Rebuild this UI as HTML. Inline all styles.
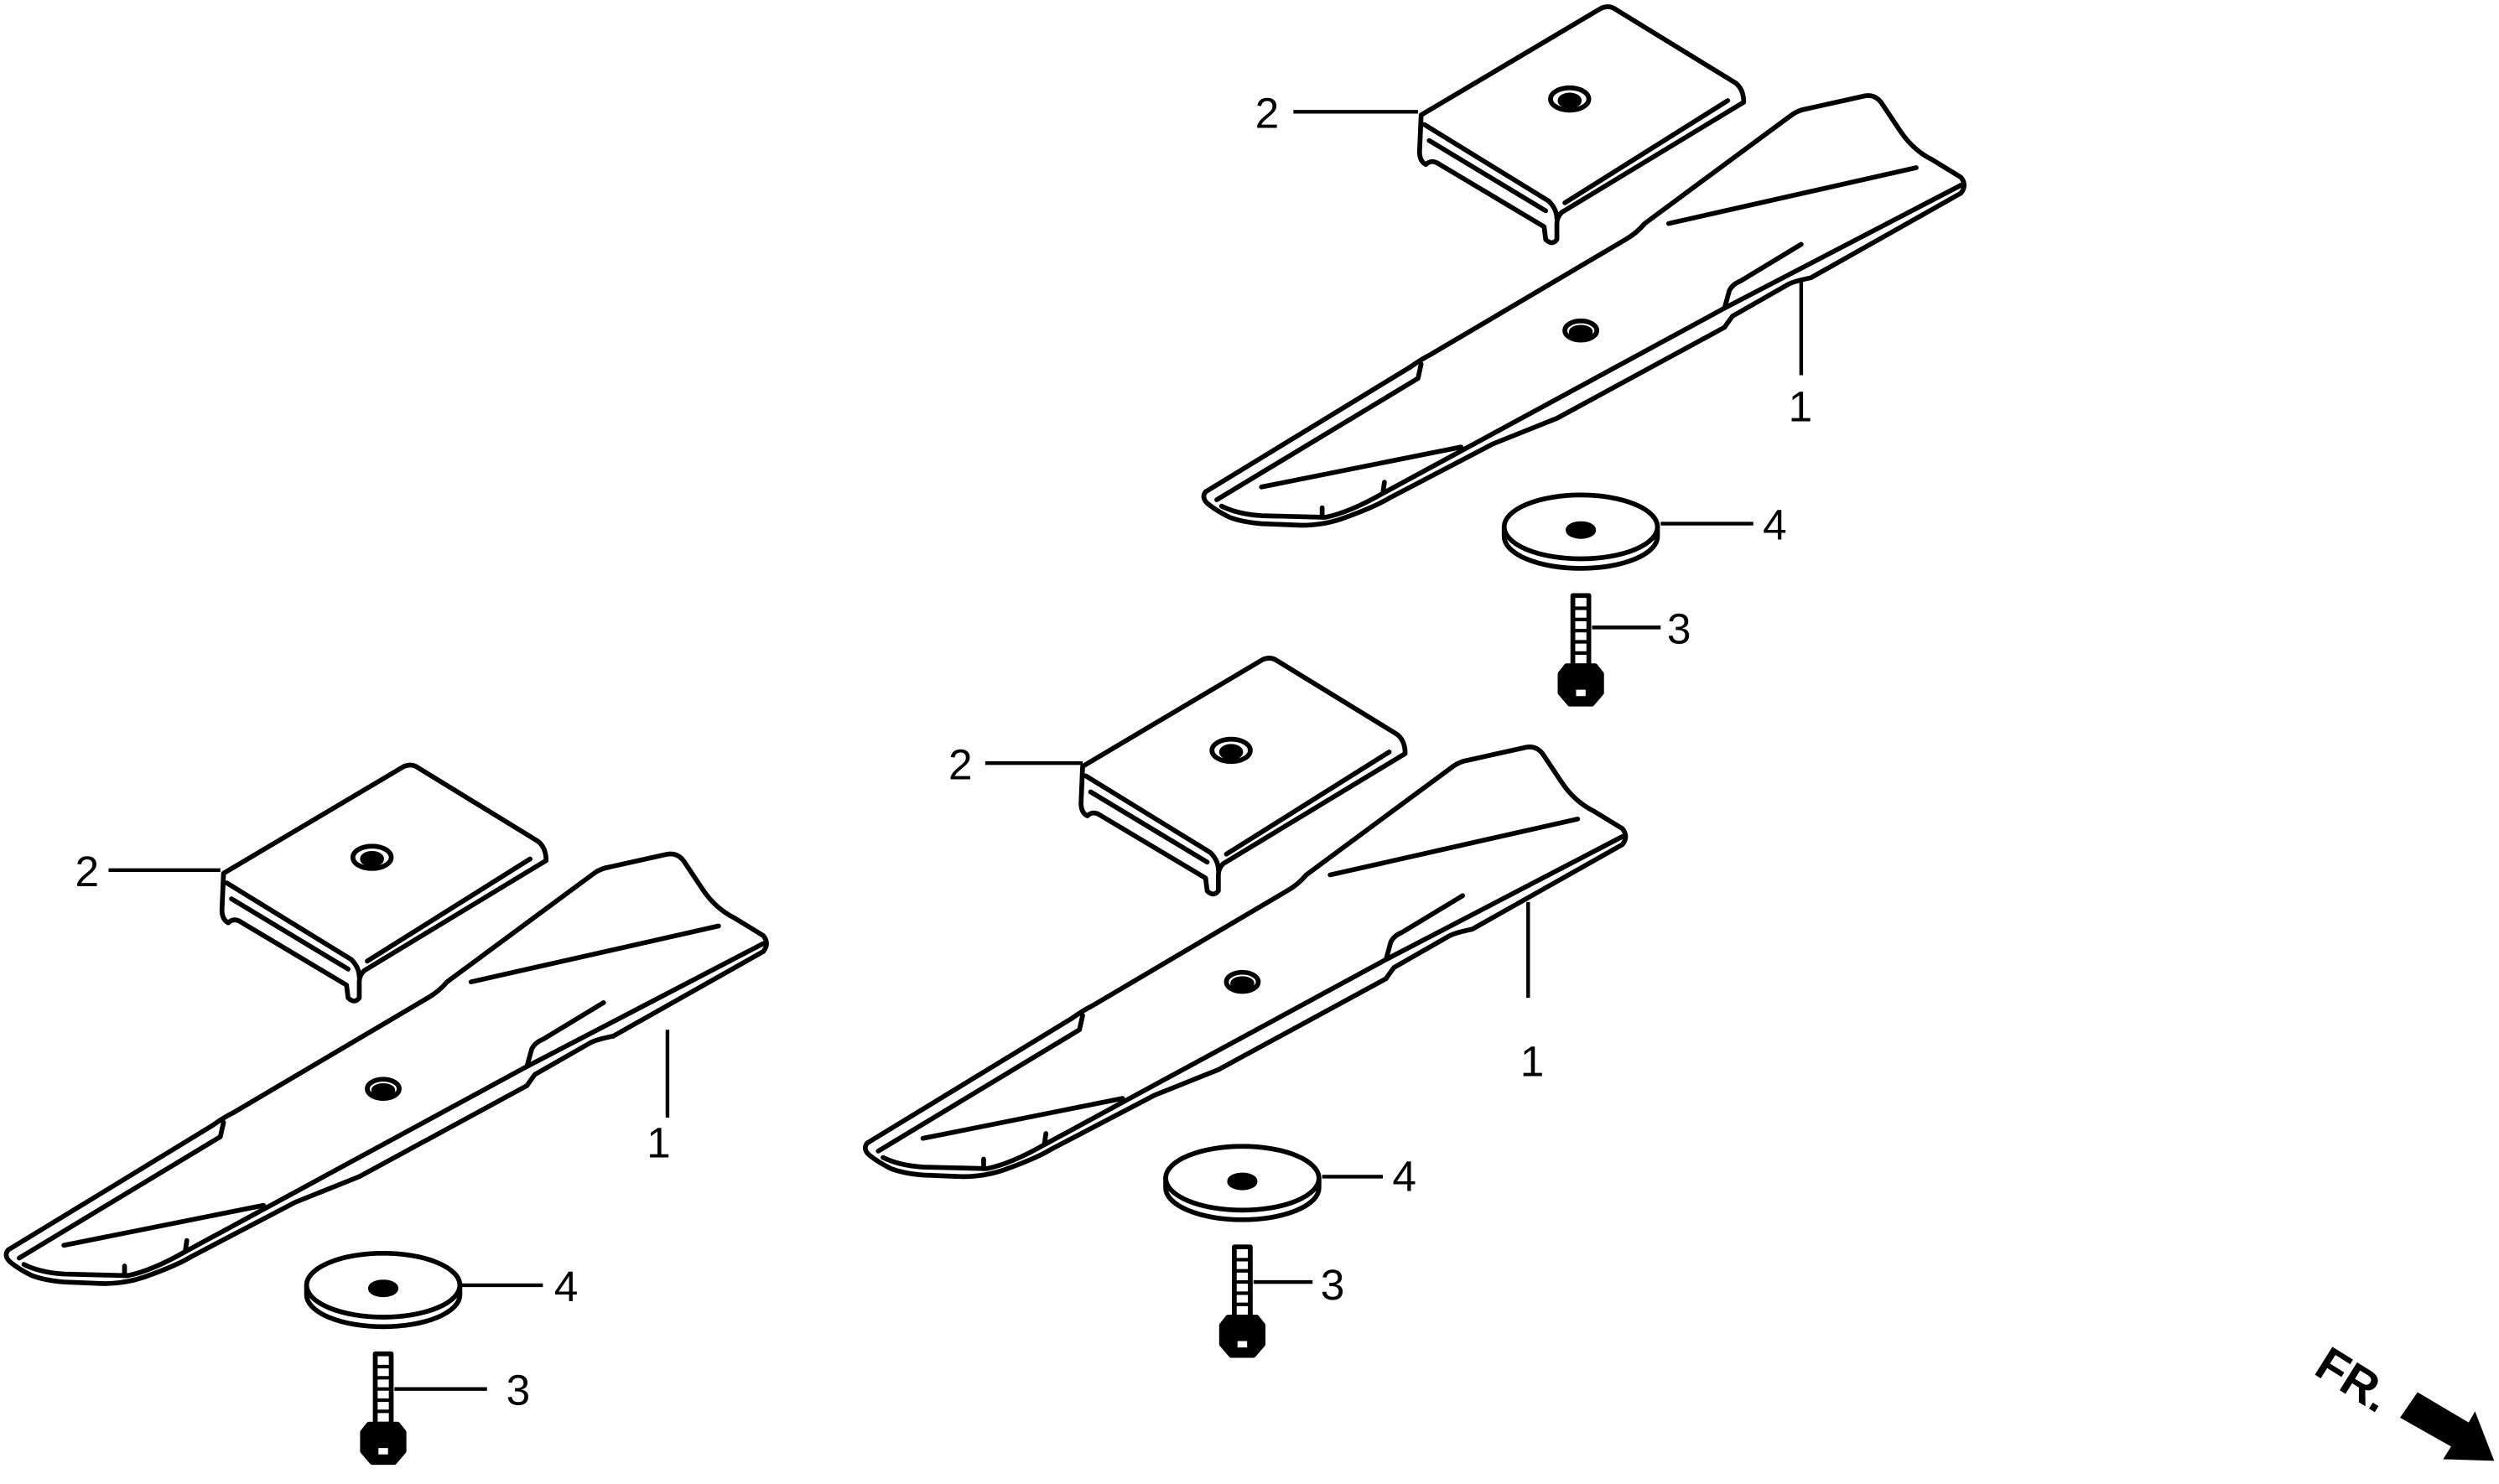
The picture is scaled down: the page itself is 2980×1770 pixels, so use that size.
<!DOCTYPE html>
<html><head><meta charset="utf-8"><style>
html,body{margin:0;padding:0;background:#fff;}
svg{display:block;}
text{font-family:"Liberation Sans",sans-serif;font-size:27px;fill:#000;}
</style></head><body>
<svg width="2980" height="1770" viewBox="0 0 1565 929.5" xmlns="http://www.w3.org/2000/svg">
<defs>
<g id="asm" fill="none" stroke="#000" stroke-width="3" stroke-linejoin="round" stroke-linecap="round">
  <!-- plate -->
  <path d="M890,72 L1003,5 Q1008,3 1012,6 L1087,52 Q1092,56 1092,64 L978,133 Q975,136 975,140 L975,150 Q972,154 968,150 L967,142 L900,102 Q896,100 893,103 Q889,101 889,95 Z" fill="#fff"/>
  <path d="M892,78 L970,126 Q975,131 975,137"/>
  <path d="M895,88 L968,132"/>
  <path d="M980,127 L1082,63"/>
  <ellipse cx="983" cy="62" rx="12" ry="7"/>
  <ellipse cx="983" cy="63" rx="6" ry="3.5" fill="#000"/>
  <!-- blade -->
  <path d="M755,308 L883,230 Q890,225 896,222 L1018,150 Q1025,146 1030,140 L1122,72 Q1126,69 1132,68 L1168,60 Q1174,59 1178,64 L1190,82 Q1198,94 1210,100 L1228,111 Q1232,116 1228,121 L1134,174 Q1124,176 1120,178 L1085,198 Q1082,202 1080,205 L975,262 L935,278 L870,312 Q860,318 840,325 Q828,329 815,329 L790,328 Q778,327 770,324 Q762,320 757,316 Q752,312 755,308 Z" fill="#fff"/>
  <path d="M762,313 L888,237 L890,228"/>
  <path d="M765,317 Q775,322 790,323 L830,324 Q845,321 866,309 L1080,193 L1228,116"/>
  <path d="M1080,193 L1083,182 Q1085,178 1090,176 L1128,153"/>
  <path d="M866,309 L867,302"/>
  <path d="M828,324 L828,318"/>
  <path d="M1045,140 L1200,105"/>
  <path d="M790,305 L915,280"/>
  <ellipse cx="990" cy="207" rx="10" ry="6"/>
  <ellipse cx="990" cy="208" rx="6" ry="3" fill="#000"/>
  <!-- washer -->
  <path d="M942,330 L942,336 A48,20 0 0 0 1038,336 L1038,330"/>
  <ellipse cx="990" cy="330" rx="48" ry="20" fill="#fff"/>
  <ellipse cx="990" cy="332" rx="8" ry="4" fill="#000"/>
  <!-- bolt -->
  <rect x="985" y="373" width="10" height="44" fill="#fff"/>
  <path d="M986,381 h8 M986,388 h8 M986,395 h8 M986,402 h8 M986,409 h8" stroke-width="2.2"/>
  <path d="M981,417 L999,417 L1003,422 L1003,434 L997,441 L983,441 L977,434 L977,422 Z" fill="#000"/>
  <rect x="987" y="432" width="6" height="4" fill="#fff" stroke="none"/>
</g>
</defs>
<use href="#asm"/>
<use href="#asm" transform="translate(-212,408)"/>
<use href="#asm" transform="translate(-750,475)"/>
<g stroke="#000" stroke-width="2.3" fill="none">
  <path d="M810,70 L888,70 M1128,175 L1128,235 M1040,328 L1098,328 M997,393 L1040,393"/>
  <path d="M617,478 L678,478 M957,565 L957,625 M828,737 L866,737 M785,803 L822,803"/>
  <path d="M68,545 L138,545 M418,645 L418,700 M288,805 L340,805 M247,870 L305,870"/>
</g>
<!-- labels top-right -->
<text x="786" y="80">2</text>
<text x="1120" y="264">1</text>
<text x="1104" y="338">4</text>
<text x="1044" y="403">3</text>
<!-- labels middle -->
<text x="594" y="488">2</text>
<text x="952" y="674">1</text>
<text x="872" y="746">4</text>
<text x="827" y="814">3</text>
<!-- labels left -->
<text x="47" y="555">2</text>
<text x="405" y="725">1</text>
<text x="347" y="815">4</text>
<text x="317" y="880">3</text>
<!-- FR arrow -->
<text x="0" y="0" transform="translate(1448,860) rotate(32)" style="font-weight:bold;font-size:30px;">FR.</text>
<polygon points="1514,872 1546,891 1550,884 1562,915 1530,914 1535,906 1503,888" fill="#000"/>
</svg>
</body></html>
